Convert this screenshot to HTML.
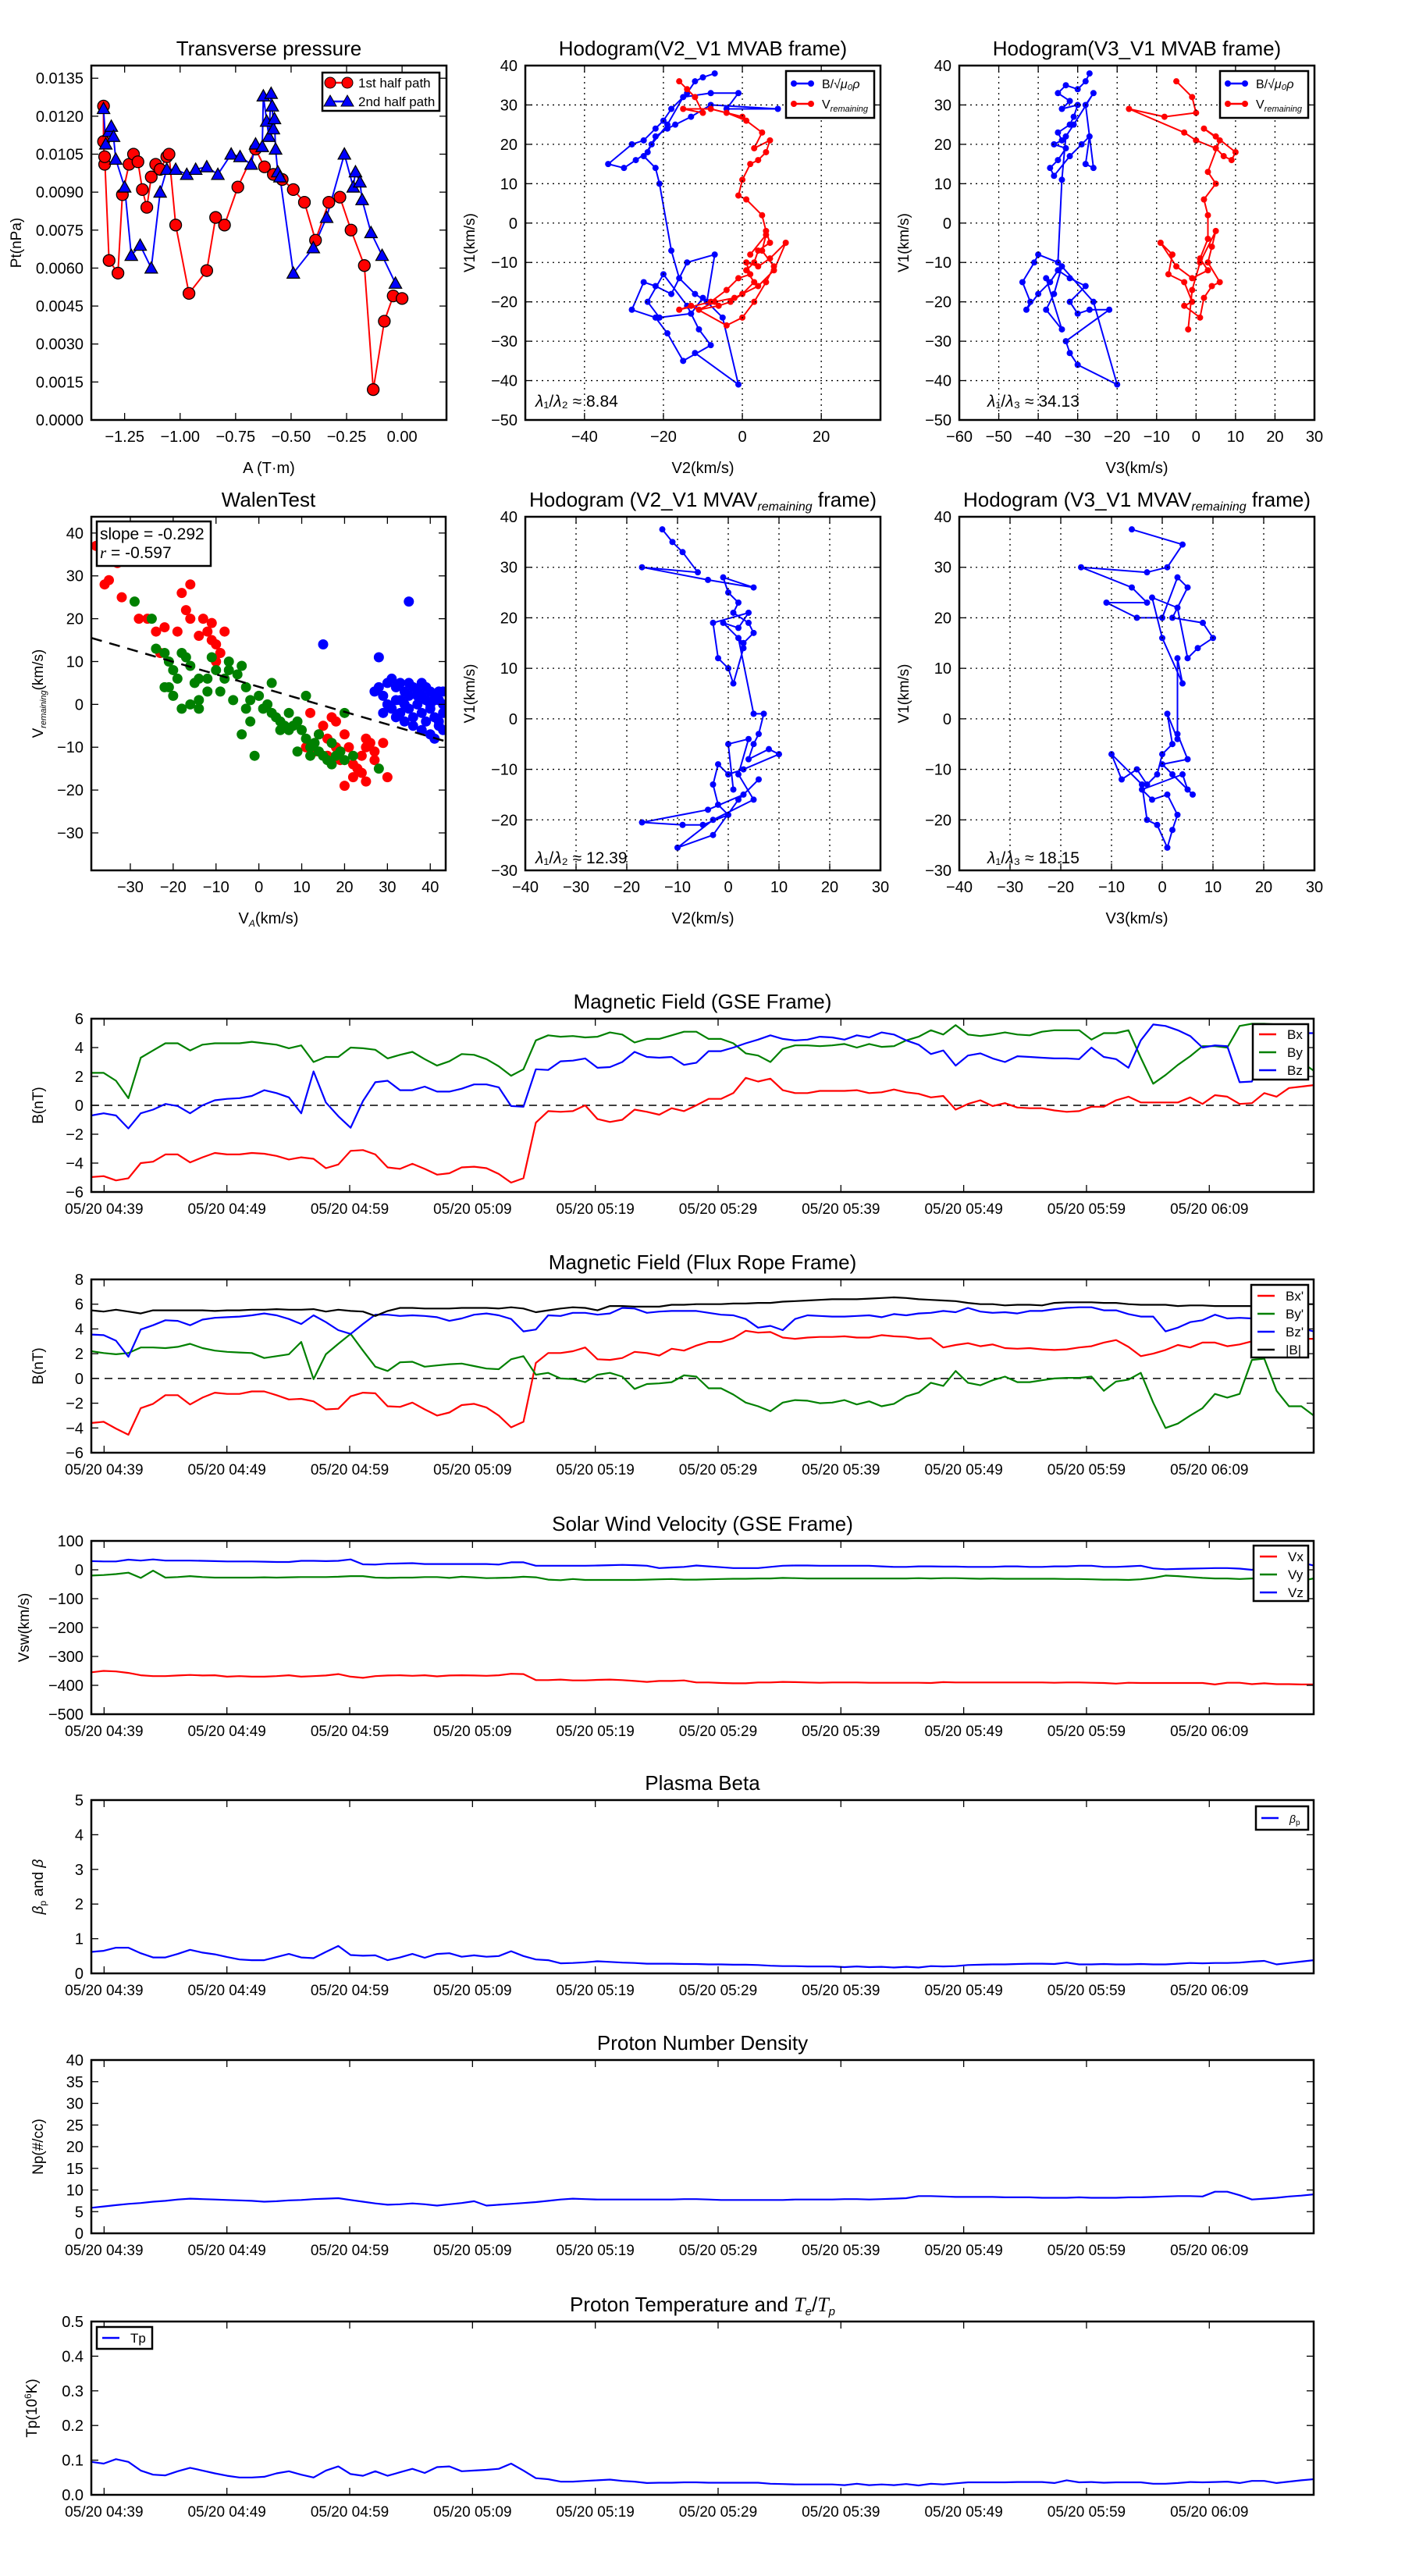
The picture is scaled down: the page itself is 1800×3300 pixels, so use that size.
<!DOCTYPE html>
<html><head><meta charset="utf-8"><title>Flux rope analysis</title>
<style>
html,body{margin:0;padding:0;background:#fff;}
svg{display:block;font-family:"Liberation Sans","DejaVu Sans",sans-serif;}
</style></head>
<body>
<svg id="fig" xmlns="http://www.w3.org/2000/svg" width="1800" height="3300" viewBox="0 0 1800 3300">
<rect x="0" y="0" width="1800" height="3300" fill="#fff"/>
</svg>
<script>
// ---------- Transverse pressure ----------
const pt1A=[-1.345,-1.345,-1.34,-1.34,-1.32,-1.28,-1.26,-1.23,-1.21,-1.19,-1.17,-1.15,-1.13,-1.11,-1.09,-1.06,-1.05,-1.02,-0.96,-0.88,-0.84,-0.80,-0.74,-0.66,-0.62,-0.58,-0.54,-0.49,-0.44,-0.39,-0.33,-0.28,-0.23,-0.17,-0.13,-0.08,-0.04,0.0];
const pt1P=[0.0124,0.0110,0.0101,0.0104,0.0063,0.0058,0.0089,0.0101,0.0105,0.0102,0.0091,0.0084,0.0096,0.0101,0.0099,0.0104,0.0105,0.0077,0.0050,0.0059,0.0080,0.0077,0.0092,0.0107,0.0100,0.0097,0.0095,0.0091,0.0086,0.0071,0.0086,0.0088,0.0075,0.0061,0.0012,0.0039,0.0049,0.0048];
const pt2A=[-1.345,-1.335,-1.32,-1.31,-1.30,-1.29,-1.25,-1.22,-1.18,-1.13,-1.09,-1.06,-1.02,-0.97,-0.93,-0.88,-0.83,-0.77,-0.73,-0.68,-0.66,-0.63,-0.625,-0.61,-0.60,-0.59,-0.585,-0.58,-0.575,-0.57,-0.56,-0.55,-0.49,-0.40,-0.34,-0.26,-0.22,-0.21,-0.19,-0.18,-0.14,-0.09,-0.03];
const pt2P=[0.0123,0.0109,0.0114,0.0116,0.0112,0.0103,0.0092,0.0065,0.0069,0.0060,0.0090,0.0099,0.0099,0.0097,0.0099,0.0100,0.0097,0.0105,0.0104,0.0101,0.0109,0.0108,0.0128,0.0118,0.0112,0.0129,0.0124,0.0115,0.0119,0.0107,0.0098,0.0096,0.0058,0.0068,0.0080,0.0105,0.0092,0.0098,0.0094,0.0087,0.0074,0.0065,0.0054];
const ptYTicks=[0,0.0015,0.003,0.0045,0.006,0.0075,0.009,0.0105,0.012,0.0135];
const ptXTicks=[-1.25,-1.0,-0.75,-0.5,-0.25,0.0];

// ---------- Hodogram V2-V1 MVAB ----------
const h1BV2=[-7,-10,-12,-14,-18,-20,-22,-25,-28,-34,-30,-27,-24,-22,-19,-17,-13,-8,9,-4,-1,-8,-15,-19,-23,-25,-22,-21,-18,-16,-12,-9,-7,-14,-18,-22,-25,-28,-22,-19,-15,-8,-11,-14,-20,-24,-21,-13,-10,-5,-1,-12];
const h1BV1=[38,37,36,33,29,26,24,21,20,15,14,16,18,22,24,25,27,30,29,29,33,33,32,25,20,17,14,10,-7,-14,-18,-20,-8,-10,-18,-16,-15,-22,-24,-28,-35,-31,-27,-21,-13,-20,-24,-23,-19,-24,-41,-33];
const h1VV2=[-16,-14,-12,-10,-15,-8,0,-4,1,5,3,7,6,4,2,0,-1,1,5,6,7,4,3,1,3,0,-3,-6,-11,-7,-2,4,8,11,7,4,1,2,-1,-4,-8,-16,-13,-4,0,3,6,8,5,6,2];
const h1VV1=[36,34,32,28,29,29,27,28,26,23,19,21,18,16,15,11,7,6,2,-2,-5,-7,-10,-12,-15,-18,-20,-21,-22,-20,-19,-16,-12,-5,-9,-11,-10,-13,-14,-17,-20,-22,-21,-26,-24,-20,-15,-11,-7,-3,-8];
// ---------- Hodogram V3-V1 MVAB ----------
const h2BV3=[-27,-28,-30,-33,-35,-32,-34,-30,-31,-32,-35,-34,-36,-33,-35,-37,-36,-32,-29,-27,-28,-26,-28,-26,-31,-33,-34,-35,-40,-41,-44,-42,-43,-40,-37,-35,-32,-28,-32,-30,-27,-22,-33,-32,-30,-20,-26,-34,-36,-38,-34,-38];
const h2BV1=[38,36,34,35,33,31,29,30,27,25,23,21,20,19,16,14,12,17,20,22,15,14,30,33,25,22,11,-10,-8,-10,-15,-20,-22,-18,-15,-12,-14,-16,-20,-23,-22,-22,-30,-33,-36,-41,-20,-11,-18,-22,-27,-14];
const h2VV3=[-5,-1,0,-8,-17,-3,0,5,7,9,10,5,2,6,3,5,2,3,3,1,3,-1,-5,-9,-6,-7,-3,-1,-3,1,2,4,6,3,4,5,1,-1,-2];
const h2VV1=[36,32,28,27,29,23,21,19,17,16,18,22,24,21,13,10,6,2,-4,-9,-12,-14,-11,-5,-8,-13,-15,-20,-21,-24,-19,-16,-15,-10,-6,-2,-10,-17,-27];
// ---------- Walen test ----------
const wRedX=[-38,-33,-36,-35,-32,-28,-26,-24,-23,-22,-18,-17,-19,-16,-13,-11,-12,-10,-9,-10,-14,-8,-11,-16,12,15,17,18,14,16,19,21,22,24,25,26,27,29,30,24,25,22,23,19,20,18,16,13,11,20,27,25];
const wRedY=[37,33,28,29,25,20,20,17,12,18,26,22,17,20,20,19,17,14,12,10,16,17,15,28,-2,-5,-3,-4,-7,-8,-11,-10,-14,-12,-10,-9,-11,-9,-17,-16,-18,-17,-15,-13,-19,-10,-12,-11,-10,-7,-13,-8];
const wGreenX=[-29,-25,-24,-22,-21,-20,-18,-19,-17,-16,-15,-14,-12,-11,-10,-8,-7,-5,-4,-3,-2,0,1,2,3,4,5,6,7,8,9,10,11,12,13,14,15,16,17,18,19,20,22,28,-1,-21,-16,-12,-6,-3,-4,-9,3,11,20,14,17,7,-18,-14,-7,-2,5,9,12,-22,-20,-14];
const wGreenY=[24,20,13,12,10,8,12,6,11,9,5,6,6,11,8,6,10,7,9,4,1,2,-1,0,-2,-3,-4,-5,-6,-5,-4,-6,-8,-10,-9,-11,-12,-13,-14,-12,-11,-13,-12,-15,-12,4,0,3,1,-1,-7,3,5,2,-2,-7,-9,-2,-1,1,8,-4,-6,-11,-12,4,2,-1];
const wBlueX=[35,15,28,27,28,29,30,31,32,33,34,35,36,37,38,39,40,41,42,43,30,31,32,33,34,35,36,37,38,39,40,41,42,43,36,38,40,41,42,43,29,32,34,37,39,40,41,42,43,44,35,33,38];
const wBlueY=[24,14,11,3,4,2,5,6,4,5,3,5,4,3,2,4,3,2,1,0,0,-1,1,-2,0,-1,-3,0,-2,-4,-1,-3,-5,-6,-5,-6,-7,-8,-4,-2,-2,-3,-4,2,1,0,1,3,3,-1,2,1,5];
const wSlope=-0.292, wIntercept=4.1;
// ---------- Hodogram MVAV ----------
const h3V2=[-13,-11,-9,-6,-17,-4,5,-1,0,2,1,4,5,3,-1,2,4,-3,-2,0,1,3,2,5,7,6,5,4,8,10,3,0,-2,-3,-2,0,-5,-9,-17,-4,3,6,2,-3,-10,-3,5,2,4,0,1];
const h3V1=[37.5,35,33,29,30,27.5,26,28,25,23,21,19,17,15,19,18,21,19,12,10,7,14,16,1,1,-3,-5,-8,-6,-7,-10,-11,-9,-13,-17,-19,-21,-21,-20.5,-18,-15,-12,-16,-23,-25.5,-20,-16,-11,-4,-5,-14];
const h4V3=[-6,4,1,-3,-16,-6,-3,-11,-5,0,3,5,2,8,10,7,5,3,-2,0,4,3,3,1,2,0,-1,-3,-5,-8,-10,-4,-3,-1,1,2,3,1,-2,-4,4,5,6,2,0,5,3];
const h4V1=[37.5,34.5,30,29,30,26,23,23,20,20,28,26,20,19,16,14,12,22,24,16,7,12,-4,1,-5,-7,-11,-13,-10,-12,-7,-13,-20,-21,-25.5,-22,-19,-15,-16,-14,-11,-14,-15,-11,-9,-8,-3];

// ---------- Time series (1-min samples starting 04:38) ----------
const timeTickLabels=["05/20 04:39","05/20 04:49","05/20 04:59","05/20 05:09","05/20 05:19","05/20 05:29","05/20 05:39","05/20 05:49","05/20 05:59","05/20 06:09"];
const timeTickMinutes=[0,10,20,30,40,50,60,70,80,90];
const gseBx=[-4.97,-4.9,-5.2,-5.05,-4.0,-3.9,-3.4,-3.4,-3.95,-3.6,-3.3,-3.4,-3.4,-3.3,-3.35,-3.5,-3.75,-3.6,-3.7,-4.35,-4.1,-3.15,-3.1,-3.4,-4.3,-4.4,-4.05,-4.4,-4.8,-4.7,-4.3,-4.25,-4.35,-4.75,-5.35,-5.05,-1.2,-0.4,-0.45,-0.4,0,-0.95,-1.15,-1.0,-0.3,-0.45,-0.65,-0.2,-0.4,0,0.45,0.45,0.85,1.9,1.65,1.85,1.05,0.85,0.85,1.0,1.0,1.0,1.05,0.85,0.9,1.1,0.9,0.8,0.55,0.65,-0.3,0.1,0.35,-0.05,0.15,-0.15,-0.2,-0.2,-0.35,-0.45,-0.4,-0.1,-0.1,0.35,0.6,0.2,0.2,0.2,0.2,0.55,0.1,0.7,0.6,0.1,0.15,0.85,0.6,1.2,1.3,1.4];
const gseBy=[2.25,2.25,1.7,0.5,3.3,3.8,4.3,4.3,3.8,4.2,4.3,4.3,4.3,4.4,4.3,4.2,3.95,4.15,3.0,3.35,3.35,4.0,3.95,3.85,3.25,3.5,3.7,3.2,2.75,3.05,3.55,3.5,3.2,2.7,2.05,2.5,4.5,4.85,4.75,4.8,4.7,4.75,5.05,4.9,4.35,4.6,4.6,4.85,5.1,5.1,4.6,4.6,4.3,3.6,3.45,3.0,3.9,4.15,4.15,4.1,4.15,4.25,4.0,4.25,4.05,4.1,4.5,4.75,5.2,4.9,5.55,4.9,4.8,4.9,5.05,4.9,4.85,5.1,5.2,5.2,5.2,4.55,5.0,5.0,5.2,3.3,1.5,2.1,2.8,3.4,4.1,4.1,4.0,5.5,5.65,5.65,5.6,4.5,3.0,2.4];
const gseBz=[-0.7,-0.55,-0.7,-1.6,-0.55,-0.3,0.1,-0.05,-0.55,0.0,0.35,0.45,0.5,0.65,1.05,0.85,0.55,-0.55,2.35,0.2,-0.75,-1.55,0.3,1.6,1.7,1.05,1.05,1.3,0.95,0.95,1.15,1.45,1.45,1.25,-0.05,-0.1,2.5,2.45,3.05,3.1,3.25,2.6,2.65,3.0,3.7,3.35,3.3,3.35,2.8,2.95,3.75,3.75,4.0,4.3,4.55,4.85,4.6,4.5,4.55,4.75,4.7,4.55,4.85,4.7,5.05,4.9,4.5,4.2,3.55,3.8,2.75,3.45,3.6,3.25,3.0,3.4,3.35,3.3,3.25,3.25,3.2,4.0,3.35,3.2,2.6,4.5,5.6,5.5,5.2,4.8,4.0,4.15,4.1,1.6,1.65,4.0,5.0,5.0,5.0,5.0];
const frBx=[-3.6,-3.5,-4.05,-4.55,-2.4,-2.05,-1.35,-1.35,-2.1,-1.55,-1.15,-1.25,-1.25,-1.05,-1.05,-1.35,-1.7,-1.65,-1.85,-2.5,-2.45,-1.45,-1.15,-1.2,-2.25,-2.3,-1.95,-2.5,-3.0,-2.75,-2.15,-2.05,-2.35,-3.0,-3.95,-3.5,1.25,2.05,2.05,2.2,2.5,1.55,1.5,1.65,2.15,2.05,1.85,2.4,2.25,2.65,2.95,2.95,3.25,3.85,3.7,3.75,3.3,3.2,3.3,3.35,3.35,3.4,3.3,3.3,3.5,3.4,3.35,3.2,3.25,2.5,2.7,2.85,2.6,2.75,2.45,2.4,2.45,2.35,2.3,2.35,2.5,2.6,2.9,3.1,2.55,1.8,2.0,2.3,2.7,2.5,2.9,2.9,2.6,2.75,3.0,3.1,3.2,3.25,3.2,3.2];
const frBy=[2.2,2.05,1.95,2.05,2.5,2.5,2.45,2.55,2.8,2.45,2.25,2.15,2.1,2.05,1.65,1.8,1.95,2.95,-0.05,1.95,2.8,3.6,2.25,0.95,0.6,1.3,1.35,0.95,1.05,1.15,1.2,1.0,0.8,0.75,1.55,1.8,0.3,0.45,0.0,-0.05,-0.3,0.3,0.45,0.15,-0.85,-0.45,-0.4,-0.3,0.25,0.15,-0.8,-0.8,-1.3,-1.95,-2.25,-2.65,-1.95,-1.75,-1.8,-2.0,-1.95,-1.75,-2.1,-1.85,-2.25,-2.05,-1.45,-1.15,-0.35,-0.6,0.6,-0.35,-0.55,-0.15,0.15,-0.3,-0.3,-0.15,0.0,0.05,0.05,0.15,-1.0,-0.25,-0.1,0.45,-1.95,-4.0,-3.65,-3.0,-2.4,-1.25,-1.55,-1.25,1.5,1.6,-1.0,-2.25,-2.25,-3.0];
const frBz=[3.55,3.5,3.05,1.75,3.95,4.3,4.7,4.65,4.3,4.75,4.9,4.95,5.0,5.1,5.25,5.1,4.8,4.4,5.1,4.55,3.9,3.6,4.4,5.15,5.15,5.05,5.1,5.05,4.95,4.65,4.85,5.15,5.25,5.1,4.8,3.8,3.95,5.1,5.05,5.3,5.3,5.15,5.25,5.7,5.65,5.3,5.4,5.45,5.45,5.45,5.3,5.15,5.1,4.8,4.1,4.25,3.9,4.8,5.1,5.05,5.0,5.0,5.05,5.1,4.95,5.2,5.1,5.25,5.3,5.45,5.35,5.7,5.4,5.3,5.35,5.25,5.45,5.45,5.6,5.7,5.75,5.75,5.5,5.5,5.2,5.0,5.0,3.8,4.1,4.55,4.7,5.15,4.85,4.9,4.85,5.0,4.95,4.8,4.05,3.8];
const frBt=[5.5,5.4,5.55,5.4,5.25,5.5,5.5,5.5,5.5,5.5,5.45,5.5,5.5,5.55,5.55,5.6,5.55,5.55,5.6,5.4,5.55,5.45,5.4,5.05,5.45,5.7,5.7,5.65,5.65,5.65,5.7,5.7,5.7,5.65,5.75,5.65,5.35,5.5,5.65,5.75,5.7,5.5,5.85,5.85,5.8,5.8,5.8,5.95,5.95,6.0,6.0,6.0,6.05,6.05,6.1,6.1,6.2,6.25,6.3,6.35,6.4,6.4,6.4,6.45,6.5,6.55,6.5,6.4,6.35,6.3,6.25,6.1,6.0,6.0,5.9,5.95,5.95,5.9,6.1,6.15,6.15,6.15,6.1,6.1,6.0,5.95,5.95,5.95,5.85,5.9,5.9,5.85,5.85,5.85,5.85,5.65,5.9,5.9,6.0,6.0];
const vx=[-355,-350,-352,-357,-365,-368,-368,-366,-364,-366,-365,-370,-368,-370,-370,-368,-365,-370,-368,-366,-361,-370,-374,-368,-366,-365,-367,-365,-369,-366,-365,-366,-367,-365,-360,-361,-382,-382,-380,-383,-383,-381,-380,-382,-385,-388,-385,-385,-383,-390,-390,-392,-393,-393,-390,-390,-388,-389,-390,-391,-390,-390,-390,-391,-391,-391,-391,-391,-392,-389,-390,-390,-390,-390,-390,-390,-390,-390,-391,-390,-390,-391,-392,-394,-391,-392,-392,-392,-392,-392,-392,-397,-391,-391,-396,-393,-396,-396,-397,-397];
const vy=[-20,-18,-15,-10,-28,-3,-27,-25,-22,-25,-27,-27,-27,-27,-26,-27,-26,-25,-25,-25,-24,-22,-22,-27,-28,-27,-27,-25,-25,-28,-24,-26,-29,-28,-27,-24,-26,-34,-36,-32,-35,-35,-35,-35,-35,-34,-33,-32,-34,-34,-33,-32,-31,-31,-30,-30,-28,-29,-30,-30,-30,-30,-30,-30,-30,-30,-30,-29,-30,-29,-29,-30,-31,-30,-31,-31,-31,-31,-31,-32,-32,-33,-34,-34,-35,-33,-28,-20,-22,-25,-28,-30,-30,-32,-30,-30,-36,-36,-38,-30];
const vz=[30,29,29,35,32,36,32,32,32,31,30,29,29,29,28,27,27,31,31,30,31,36,19,18,21,22,23,20,20,20,20,20,20,18,26,26,14,14,14,14,14,15,16,17,16,14,6,8,10,15,12,9,6,6,6,10,14,15,15,14,14,14,14,14,12,10,10,12,12,11,11,10,10,10,12,12,10,10,12,12,14,14,10,10,12,14,5,2,3,4,5,6,6,4,0,8,18,20,25,15];
const beta=[0.62,0.65,0.74,0.74,0.58,0.46,0.46,0.56,0.68,0.6,0.55,0.47,0.4,0.38,0.38,0.47,0.56,0.46,0.44,0.62,0.79,0.53,0.51,0.52,0.38,0.46,0.56,0.45,0.56,0.58,0.48,0.52,0.48,0.5,0.64,0.5,0.4,0.38,0.29,0.3,0.32,0.35,0.33,0.31,0.3,0.28,0.28,0.28,0.27,0.27,0.26,0.26,0.25,0.25,0.24,0.22,0.21,0.21,0.2,0.2,0.2,0.18,0.2,0.18,0.19,0.17,0.19,0.17,0.21,0.2,0.21,0.24,0.25,0.26,0.26,0.27,0.28,0.28,0.27,0.31,0.26,0.26,0.27,0.26,0.26,0.27,0.26,0.26,0.28,0.3,0.29,0.3,0.3,0.31,0.34,0.36,0.26,0.3,0.34,0.38];
const density=[5.9,6.2,6.5,6.8,7.0,7.3,7.5,7.8,8.0,7.9,7.8,7.7,7.6,7.5,7.3,7.4,7.6,7.7,7.9,8.0,8.1,7.7,7.3,6.9,6.6,6.7,6.9,6.7,6.4,6.7,7.0,7.4,6.4,6.6,6.8,7.0,7.2,7.5,7.8,8.0,7.9,7.8,7.8,7.8,7.8,7.8,7.8,7.8,7.9,7.9,7.8,7.7,7.7,7.7,7.7,7.7,7.7,7.8,7.8,7.8,7.8,7.9,7.9,7.8,7.9,8.0,8.1,8.6,8.6,8.5,8.4,8.4,8.4,8.4,8.3,8.3,8.3,8.2,8.2,8.2,8.3,8.2,8.2,8.2,8.3,8.3,8.4,8.5,8.6,8.6,8.5,9.6,9.6,8.8,7.8,8.0,8.2,8.5,8.7,9.0];
const tempP=[0.095,0.09,0.103,0.095,0.07,0.058,0.056,0.068,0.078,0.07,0.062,0.055,0.05,0.05,0.052,0.062,0.068,0.058,0.05,0.07,0.082,0.06,0.055,0.068,0.055,0.065,0.075,0.063,0.08,0.082,0.068,0.07,0.072,0.075,0.09,0.07,0.048,0.045,0.038,0.038,0.04,0.042,0.044,0.04,0.038,0.034,0.035,0.035,0.036,0.036,0.035,0.035,0.035,0.035,0.035,0.032,0.031,0.03,0.03,0.03,0.03,0.028,0.032,0.028,0.03,0.028,0.031,0.027,0.032,0.03,0.033,0.036,0.036,0.036,0.036,0.037,0.037,0.037,0.034,0.042,0.036,0.037,0.035,0.036,0.036,0.036,0.032,0.032,0.034,0.037,0.036,0.037,0.038,0.034,0.04,0.04,0.034,0.038,0.042,0.045];

const NS='http://www.w3.org/2000/svg';
const svg=document.getElementById('fig');
function mk(tag,attrs,parent){const e=document.createElementNS(NS,tag);for(const k in attrs)e.setAttribute(k,attrs[k]);(parent||svg).appendChild(e);return e;}
function fmtNum(v,dec){let s=v.toFixed(dec);return s.replace('-','\u2212');}

function makeAxes(name,x0,y0,w,h,xmin,xmax,ymin,ymax){
  const g=mk('g',{});
  
  
  const ax={g,x0,y0,w,h,
    sx:v=>x0+(v-xmin)/(xmax-xmin)*w,
    sy:v=>y0+h-(v-ymin)/(ymax-ymin)*h};
  const cp=mk('clipPath',{id:'clip-'+name},g);
  mk('rect',{x:x0,y:y0,width:w,height:h},cp);
  ax.plot=mk('g',{'clip-path':'url(#clip-'+name+')'},g);
  
  
  return ax;
}
function frame(ax){
  const r=mk('rect',{x:ax.x0,y:ax.y0,width:ax.w,height:ax.h,fill:'none',stroke:'#000','stroke-width':2.5},ax.g);
  
  
}
function xTicks(ax,vals,labels,grid,fs){
  vals.forEach((v,i)=>{
    const x=ax.sx(v);
    if(grid){const gl=mk('line',{x1:x,y1:ax.y0,x2:x,y2:ax.y0+ax.h,stroke:'#000','stroke-width':1.3,'stroke-dasharray':'2,5'},ax.g);
      
      }
    mk('line',{x1:x,y1:ax.y0+ax.h,x2:x,y2:ax.y0+ax.h-9,stroke:'#000','stroke-width':1.3},ax.g);
    mk('line',{x1:x,y1:ax.y0,x2:x,y2:ax.y0+9,stroke:'#000','stroke-width':1.3},ax.g);
    const t=mk('text',{x:x,y:ax.y0+ax.h+28,'text-anchor':'middle','font-size':fs||20},ax.g);
    t.textContent=labels[i];
    
    
  });
}
function yTicks(ax,vals,labels,grid){
  vals.forEach((v,i)=>{
    const y=ax.sy(v);
    if(grid){const gl=mk('line',{x1:ax.x0,y1:y,x2:ax.x0+ax.w,y2:y,stroke:'#000','stroke-width':1.3,'stroke-dasharray':'2,5'},ax.g);
      
      }
    mk('line',{x1:ax.x0,y1:y,x2:ax.x0+9,y2:y,stroke:'#000','stroke-width':1.3},ax.g);
    mk('line',{x1:ax.x0+ax.w,y1:y,x2:ax.x0+ax.w-9,y2:y,stroke:'#000','stroke-width':1.3},ax.g);
    const t=mk('text',{x:ax.x0-10,y:y+7,'text-anchor':'end','font-size':20},ax.g);
    t.textContent=labels[i];
    
    
  });
}
function title(ax,txt){
  const t=mk('text',{x:ax.x0+ax.w/2,y:ax.y0-13,'text-anchor':'middle','font-size':26},ax.g);
  t.innerHTML=txt;
  
  
}
function xLabel(ax,txt,off){
  const t=mk('text',{x:ax.x0+ax.w/2,y:ax.y0+ax.h+(off||68),'text-anchor':'middle','font-size':20},ax.g);
  t.innerHTML=txt;
  
  
}
function yLabel(ax,txt,off){
  const cx=ax.x0-(off||75),cy=ax.y0+ax.h/2;
  const t=mk('text',{x:cx,y:cy,'text-anchor':'middle','font-size':19,transform:'rotate(-90 '+cx+' '+cy+')'},ax.g);
  t.innerHTML=txt;
  
  
}
function line(ax,xs,ys,color,name,w){
  const d=xs.map((x,i)=>(i?'L':'M')+ax.sx(x).toFixed(1)+' '+ax.sy(ys[i]).toFixed(1)).join(' ');
  const p=mk('path',{d:d,fill:'none',stroke:color,'stroke-width':w||2.2,'stroke-linejoin':'round'},ax.plot);
  
  
  return p;
}
function dots(ax,xs,ys,color,r,name,stroke){
  const g=mk('g',{},ax.plot);
  
  
  xs.forEach((x,i)=>{const c=mk('circle',{cx:ax.sx(x),cy:ax.sy(ys[i]),r:r,fill:color,stroke:stroke||'none','stroke-width':1.3},g);
    
    });
}
function tris(ax,xs,ys,color,s,name){
  const g=mk('g',{},ax.plot);
  
  
  xs.forEach((x,i)=>{const cx=ax.sx(x),cy=ax.sy(ys[i]);
    const p=mk('polygon',{points:cx+','+(cy-s)+' '+(cx-s)+','+(cy+s*0.8)+' '+(cx+s)+','+(cy+s*0.8),fill:color,stroke:'#000','stroke-width':1.3},g);
    
    });
}
function legendBox(x,y,w,h){
  const r=mk('rect',{x:x,y:y,width:w,height:h,fill:'#fff',stroke:'#000','stroke-width':2.5});
  
  
}
function legendEntry(x,y,color,txt,marker,fs){
  const g=mk('g',{});
  
  
  mk('line',{x1:x,y1:y,x2:x+22,y2:y,stroke:color,'stroke-width':2.5},g);
  if(marker==='o'){mk('circle',{cx:x,cy:y,r:4,fill:color},g);mk('circle',{cx:x+22,cy:y,r:4,fill:color},g);}
  if(marker==='O'){mk('circle',{cx:x,cy:y,r:7,fill:color,stroke:'#000'},g);mk('circle',{cx:x+22,cy:y,r:7,fill:color,stroke:'#000'},g);}
  if(marker==='^'){[x,x+22].forEach(cx=>mk('polygon',{points:cx+','+(y-8)+' '+(cx-8)+','+(y+6)+' '+(cx+8)+','+(y+6),fill:color,stroke:'#000'},g));}
  const t=mk('text',{x:x+36,y:y+6,'font-size':fs||18},g);
  t.innerHTML=txt;
}
function rng(a,b,s){const r=[];for(let v=a;v<=b+1e-9;v+=s)r.push(+v.toFixed(6));return r;}

// ===== Transverse pressure =====
(function(){
  const ax=makeAxes('transverse-pressure-chart',117,84,455,454,-1.4,0.2,0,0.014);
  line(ax,pt1A,pt1P,'#f00','first-half-line',2);
  line(ax,pt2A,pt2P,'#00f','second-half-line',2);
  dots(ax,pt1A,pt1P,'#f00',7.5,'first-half-markers','#000');
  tris(ax,pt2A,pt2P,'#00f',8,'second-half-markers');
  xTicks(ax,ptXTicks,ptXTicks.map(v=>fmtNum(v,2)));
  yTicks(ax,ptYTicks,ptYTicks.map(v=>v.toFixed(4)));
  frame(ax);title(ax,'Transverse pressure');xLabel(ax,'A (T·m)');yLabel(ax,'Pt(nPa)',90);
  legendBox(413,93,150,49);
  legendEntry(423,106,'#f00','1st half path','O',17);
  legendEntry(423,130,'#00f','2nd half path','^',17);
})();
function hodo(name,x0,y0,xmin,xmax,ymin,ymax,xt,yt,ttl,xl){
  const ax=makeAxes(name,x0,y0,455,ymax-ymin===70?453:454,xmin,xmax,ymin,ymax);
  xTicks(ax,xt,xt.map(v=>fmtNum(v,0)),true);
  yTicks(ax,yt,yt.map(v=>fmtNum(v,0)),true);
  title(ax,ttl);xLabel(ax,xl);yLabel(ax,'V1(km/s)',65);
  return ax;
}
const mu='B/<tspan font-style="italic">√μ₀ρ</tspan>';
const vr='V<tspan font-size="11" font-style="italic" dy="4">remaining</tspan>';
// ===== Hodogram 1 =====
(function(){
  const ax=hodo('hodogram-v2-v1-mvab',673,84,-55,35,-50,40,[-40,-20,0,20],rng(-50,40,10),'Hodogram(V2_V1 MVAB frame)','V2(km/s)');
  line(ax,h1BV2,h1BV1,'#00f','b-alfven-path',2);dots(ax,h1BV2,h1BV1,'#00f',4,'b-alfven-points');
  line(ax,h1VV2,h1VV1,'#f00','v-remaining-path',2);dots(ax,h1VV2,h1VV1,'#f00',4,'v-remaining-points');
  frame(ax);
  legendBox(1007,91,113,60);
  legendEntry(1017,107,'#00f',mu,'o',16);legendEntry(1017,133,'#f00',vr,'o',16);
  const t=mk('text',{x:686,y:521,'font-size':21});t.innerHTML='<tspan font-style="italic">λ</tspan>₁/<tspan font-style="italic">λ</tspan>₂ ≈ 8.84';
  
  
})();
// ===== Hodogram 2 =====
(function(){
  const ax=hodo('hodogram-v3-v1-mvab',1229,84,-60,30,-50,40,rng(-60,30,10),rng(-50,40,10),'Hodogram(V3_V1 MVAB frame)','V3(km/s)');
  line(ax,h2BV3,h2BV1,'#00f','b-alfven-path',2);dots(ax,h2BV3,h2BV1,'#00f',4,'b-alfven-points');
  line(ax,h2VV3,h2VV1,'#f00','v-remaining-path',2);dots(ax,h2VV3,h2VV1,'#f00',4,'v-remaining-points');
  frame(ax);
  legendBox(1563,91,113,60);
  legendEntry(1573,107,'#00f',mu,'o',16);legendEntry(1573,133,'#f00',vr,'o',16);
  const t=mk('text',{x:1265,y:521,'font-size':21});t.innerHTML='<tspan font-style="italic">λ</tspan>₁/<tspan font-style="italic">λ</tspan>₃ ≈ 34.13';
  
  
})();
// ===== Walen =====
(function(){
  const ax=makeAxes('walen-test-chart',117,662,454,453,-39.1,43.6,-38.75,43.8);
  dots(ax,wRedX,wRedY,'#f00',6.5,'walen-red-points');
  dots(ax,wGreenX,wGreenY,'#008000',6.5,'walen-green-points');
  dots(ax,wBlueX,wBlueY,'#00f',6.5,'walen-blue-points');
  const fx=[-39.1,43.6];
  const fl=line(ax,fx,fx.map(x=>wIntercept+wSlope*x),'#000','walen-fit-line',2.5);fl.setAttribute('stroke-dasharray','14,10');
  const xt=rng(-30,40,10),yt=rng(-30,40,10);
  xTicks(ax,xt,xt.map(v=>fmtNum(v,0)));yTicks(ax,yt,yt.map(v=>fmtNum(v,0)));
  frame(ax);title(ax,'WalenTest');
  xLabel(ax,'V<tspan font-size="12" font-style="italic" dy="4">A</tspan><tspan dy="-4">(km/s)</tspan>');
  yLabel(ax,'V<tspan font-size="11" font-style="italic" dy="4">remaining</tspan><tspan dy="-4">(km/s)</tspan>',62);
  legendBox(124,668,146,57);
  const t1=mk('text',{x:128,y:691,'font-size':21});t1.textContent='slope = -0.292';
  
  
  const t2=mk('text',{x:128,y:715,'font-size':21});t2.innerHTML='<tspan font-style="italic" font-family="Liberation Serif">r</tspan> = -0.597';
  
  
})();
// ===== Hodogram MVAV =====
(function(){
  const ax=hodo('hodogram-v2-v1-mvav',673,662,-40,30,-30,40,rng(-40,30,10),rng(-30,40,10),'Hodogram (V2_V1 MVAV<tspan font-size="16" font-style="italic" dy="5">remaining</tspan><tspan dy="-5"> frame)</tspan>','V2(km/s)');
  line(ax,h3V2,h3V1,'#00f','hodogram-path',2);dots(ax,h3V2,h3V1,'#00f',4,'hodogram-points');
  frame(ax);
  const t=mk('text',{x:686,y:1106,'font-size':21});t.innerHTML='<tspan font-style="italic">λ</tspan>₁/<tspan font-style="italic">λ</tspan>₂ ≈ 12.39';
  
  
})();
(function(){
  const ax=hodo('hodogram-v3-v1-mvav',1229,662,-40,30,-30,40,rng(-40,30,10),rng(-30,40,10),'Hodogram (V3_V1 MVAV<tspan font-size="16" font-style="italic" dy="5">remaining</tspan><tspan dy="-5"> frame)</tspan>','V3(km/s)');
  line(ax,h4V3,h4V1,'#00f','hodogram-path',2);dots(ax,h4V3,h4V1,'#00f',4,'hodogram-points');
  frame(ax);
  const t=mk('text',{x:1265,y:1106,'font-size':21});t.innerHTML='<tspan font-style="italic">λ</tspan>₁/<tspan font-style="italic">λ</tspan>₃ ≈ 18.15';
  
  
})();

// ===== Time series =====
function tsAxes(name,y0,ymin,ymax,yt,ydec,ttl,yl,yoff){
  const ax=makeAxes(name,117,y0,1566,222,-1.04,98.5,ymin,ymax);
  xTicks(ax,timeTickMinutes,timeTickLabels,false,19);
  yTicks(ax,yt,yt.map(v=>fmtNum(v,ydec)));
  title(ax,ttl);yLabel(ax,yl,yoff||62);
  return ax;
}
function tsTimes(n){const a=[];for(let i=0;i<n;i++)a.push(-1.04+i*99.54/(n-1));return a;}
function zeroLine(ax){const l=mk('line',{x1:ax.x0,y1:ax.sy(0),x2:ax.x0+ax.w,y2:ax.sy(0),stroke:'#000','stroke-width':1.5,'stroke-dasharray':'10,7'},ax.plot);
  
  }
(function(){
  const ax=tsAxes('magnetic-field-gse-chart',1305,-6,6,rng(-6,6,2),0,'Magnetic Field (GSE Frame)','B(nT)');
  zeroLine(ax);const t=tsTimes(gseBx.length);
  line(ax,t,gseBx,'#f00','bx-line');line(ax,t,gseBy,'#008000','by-line');line(ax,t,gseBz,'#00f','bz-line');
  frame(ax);
  legendBox(1605,1312,71,71);
  legendEntry(1613,1325,'#f00','Bx','',17);legendEntry(1613,1348,'#008000','By','',17);legendEntry(1613,1371,'#00f','Bz','',17);
})();
(function(){
  const ax=tsAxes('magnetic-field-flux-rope-chart',1639,-6,8,rng(-6,8,2),0,'Magnetic Field (Flux Rope Frame)','B(nT)');
  zeroLine(ax);const t=tsTimes(frBx.length);
  line(ax,t,frBx,'#f00','bx-prime-line');line(ax,t,frBy,'#008000','by-prime-line');line(ax,t,frBz,'#00f','bz-prime-line');line(ax,t,frBt,'#000','b-magnitude-line');
  frame(ax);
  legendBox(1603,1646,73,93);
  legendEntry(1611,1660,'#f00',"Bx'",'',17);legendEntry(1611,1683,'#008000',"By'",'',17);legendEntry(1611,1706,'#00f',"Bz'",'',17);legendEntry(1611,1729,'#000','|B|','',17);
})();
(function(){
  const ax=tsAxes('solar-wind-velocity-chart',1974,-500,100,rng(-500,100,100),0,'Solar Wind Velocity (GSE Frame)','Vsw(km/s)',80);
  const t=tsTimes(vx.length);
  line(ax,t,vx,'#f00','vx-line');line(ax,t,vy,'#008000','vy-line');line(ax,t,vz,'#00f','vz-line');
  frame(ax);
  legendBox(1606,1980,70,71);
  legendEntry(1614,1994,'#f00','Vx','',17);legendEntry(1614,2017,'#008000','Vy','',17);legendEntry(1614,2040,'#00f','Vz','',17);
})();
(function(){
  const ax=tsAxes('plasma-beta-chart',2306,0,5,rng(0,5,1),0,'Plasma Beta','<tspan font-style="italic">β</tspan><tspan font-size="12" dy="4">p</tspan><tspan dy="-4"> and </tspan><tspan font-style="italic">β</tspan>');
  line(ax,tsTimes(beta.length),beta,'#00f','beta-line');
  frame(ax);
  legendBox(1609,2314,67,30);
  legendEntry(1616,2329,'#00f','<tspan font-style="italic" font-size="14">β</tspan><tspan font-size="10" dy="3">p</tspan>','',17);
})();
(function(){
  const ax=tsAxes('proton-density-chart',2639,0,40,rng(0,40,5),0,'Proton Number Density','Np(#/cc)');
  line(ax,tsTimes(density.length),density,'#00f','density-line');
  frame(ax);
})();
(function(){
  const ax=tsAxes('proton-temperature-chart',2974,0,0.5,rng(0,0.5,0.1),1,'Proton Temperature and <tspan font-style="italic" font-family="Liberation Serif">T</tspan><tspan font-size="15" font-style="italic" dy="5">e</tspan><tspan dy="-5">/</tspan><tspan font-style="italic" font-family="Liberation Serif">T</tspan><tspan font-size="15" font-style="italic" dy="5">p</tspan>','Tp(10<tspan font-size="12" dy="-7">6</tspan><tspan dy="7">K)</tspan>',70);
  line(ax,tsTimes(tempP.length),tempP,'#00f','temperature-line');
  frame(ax);
  legendBox(124,2981,71,28);
  legendEntry(131,2995,'#00f','Tp','',17);
})();
</script>
</body></html>
